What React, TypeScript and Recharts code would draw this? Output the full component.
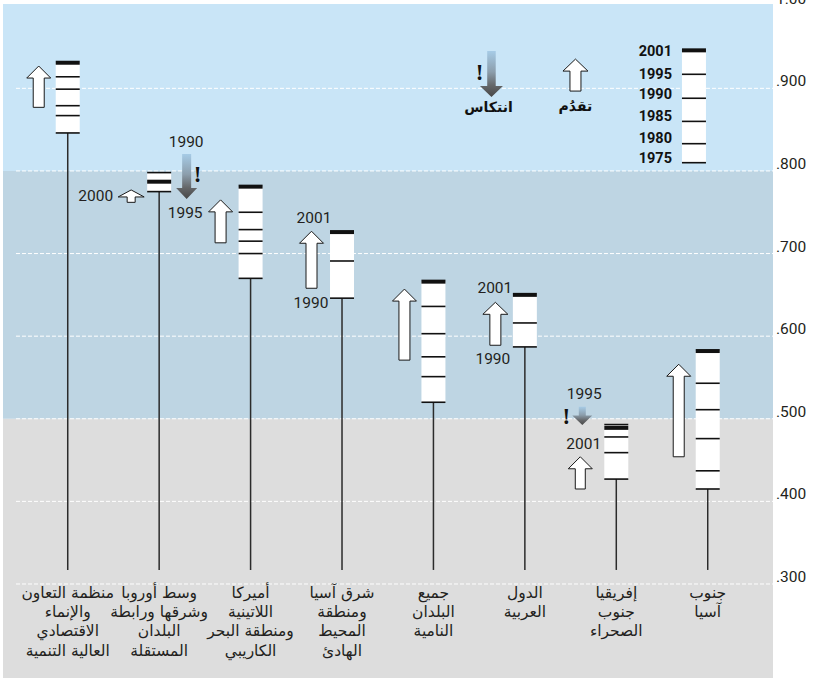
import React from 'react';
import {
  ComposedChart,
  XAxis,
  YAxis,
  Scatter,
  ReferenceArea,
  ReferenceLine,
  ReferenceDot,
} from 'recharts';

// ---------------- data ----------------
const YEARS = [1975, 1980, 1985, 1990, 1995, 2001];

const CATEGORY_LABELS: string[][] = [
  ['منظمة التعاون', 'والإنماء', 'الاقتصادي', 'العالية التنمية'],
  ['وسط أوروبا', 'وشرقها ورابطة', 'البلدان', 'المستقلة'],
  ['أميركا', 'اللاتينية', 'ومنطقة البحر', 'الكاريبي'],
  ['شرق آسيا', 'ومنطقة', 'المحيط', 'الهادئ'],
  ['جميع', 'البلدان', 'النامية'],
  ['الدول', 'العربية'],
  ['إفريقيا', 'جنوب', 'الصحراء'],
  ['جنوب', 'آسيا'],
];

const HDI_OECD = [0.846, 0.867, 0.879, 0.899, 0.914, 0.931];
const HDI_CEE_CIS = [null, null, null, 0.798, 0.775, 0.787];
const HDI_LATAM = [0.67, 0.7, 0.715, 0.729, 0.75, 0.781];
const HDI_EAST_ASIA = [null, null, null, 0.646, 0.691, 0.726];
const HDI_DEVELOPING = [0.52, 0.551, 0.575, 0.603, 0.636, 0.666];
const HDI_ARAB = [null, null, null, 0.587, 0.616, 0.65];
const HDI_SSA = [null, 0.427, 0.459, 0.478, 0.493, 0.489];
const HDI_SOUTH_ASIA = [0.415, 0.437, 0.476, 0.511, 0.543, 0.582];
const REGION_SERIES: (number | null)[][] = [
  HDI_OECD,
  HDI_CEE_CIS,
  HDI_LATAM,
  HDI_EAST_ASIA,
  HDI_DEVELOPING,
  HDI_ARAB,
  HDI_SSA,
  HDI_SOUTH_ASIA,
];

const Y_TICKS = [0.3, 0.4, 0.5, 0.6, 0.7, 0.8, 0.9, 1.0];
const Y_TICK_LABELS = ['.300', '.400', '.500', '.600', '.700', '.800', '.900', '1.00'];
const GRID_VALUES = [0.3, 0.4, 0.5, 0.6, 0.7, 0.8, 0.9];
const BAND_EDGES = [0.5, 0.8];
const STEM_END = 0.317;

const LEGEND_YEARS = ['2001', '1995', '1990', '1985', '1980', '1975'];
const LEGEND_VALUES = [0.946, 0.917, 0.888, 0.86, 0.833, 0.81];
const LEGEND_LABEL_VALUES = [0.9457, 0.9179, 0.8931, 0.8664, 0.8404, 0.8156];

const PROGRESS_ARROWS = [
  { region: 0, from: 0.877, to: 0.927 },
  { region: 1, from: 0.762, to: 0.777 },
  { region: 2, from: 0.713, to: 0.765 },
  { region: 3, from: 0.658, to: 0.727 },
  { region: 4, from: 0.571, to: 0.657 },
  { region: 5, from: 0.589, to: 0.641 },
  { region: 6, from: 0.415, to: 0.454 },
  { region: 7, from: 0.454, to: 0.566 },
];
const REVERSAL_ARROWS = [
  { region: 1, from: 0.8205, to: 0.766 },
  { region: 6, from: 0.5146, to: 0.4924 },
];
const YEAR_NOTES = [
  { region: 1, text: '1990', value: 0.836 },
  { region: 1, text: '1995', value: 0.7503 },
  { region: 1, text: '2000', value: 0.7708 },
  { region: 3, text: '2001', value: 0.7442 },
  { region: 3, text: '1990', value: 0.6413 },
  { region: 5, text: '2001', value: 0.6595 },
  { region: 5, text: '1990', value: 0.5735 },
  { region: 6, text: '1995', value: 0.5312 },
  { region: 6, text: '2001', value: 0.4695 },
];
const WARNING_MARKS = [
  { region: 1, value: 0.7962 },
  { region: 6, value: 0.5033 },
];
const LEGEND_PROGRESS = { from: 0.8967, to: 0.9354, label: 'تقدُم', labelValue: 0.8786 };
const LEGEND_REVERSAL = { from: 0.9451, to: 0.8894, label: 'انتكاس', labelValue: 0.8773, markValue: 0.9203 };

// ---------------- layout / style ----------------
const W = 814;
const H = 678;
const X_MIN = -0.708;
const X_MAX = 7.714;
const Y_MIN = 0.1862;
const Y_MAX = 1.0021;
const PX = 91.43; // pixels per category unit
const u = (px: number) => px / PX;
const BAR_HALF = u(12);
const GRID_START = u(16 - 67.75);
const LEGEND_BOX_X = u(694 - 67.75);
const LEGEND_UP_X = u(575.5 - 67.75);
const LEGEND_DOWN_X = u(491.5 - 67.75);

const PROGRESS_STYLE = [
  { dx: -29, w: 24, headH: 12, shaftW: 11 },
  { dx: -28, w: 26, headH: 7, shaftW: 8 },
  { dx: -30, w: 24, headH: 12, shaftW: 11 },
  { dx: -30.5, w: 24, headH: 12, shaftW: 11 },
  { dx: -29, w: 24, headH: 12, shaftW: 11 },
  { dx: -29.5, w: 25, headH: 12, shaftW: 11 },
  { dx: -36, w: 24, headH: 12, shaftW: 10 },
  { dx: -29, w: 24, headH: 12, shaftW: 11 },
];
const REVERSAL_STYLE = [
  { dx: 27.5, w: 21, headH: 11, shaftW: 9 },
  { dx: -34, w: 20, headH: 9.5, shaftW: 7 },
];
const NOTE_STYLE = [
  { dx: 27, anchor: 'middle' },
  { dx: 26, anchor: 'middle' },
  { dx: -46, anchor: 'end' },
  { dx: -28, anchor: 'middle' },
  { dx: -31, anchor: 'middle' },
  { dx: -30, anchor: 'middle' },
  { dx: -32, anchor: 'middle' },
  { dx: -32, anchor: 'middle' },
  { dx: -32.5, anchor: 'middle' },
];
const MARK_DX = [38.5, -50];

const NUM_FONT = "Roboto, 'Open Sans', sans-serif";
const AR_FONT = "'DejaVu Sans', sans-serif";
const TEXT_COLOR = '#231f20';
const BG_TOP = '#c9e5f7';
const BG_MID = '#bed5e3';
const BG_LOW = '#dddddd';

// ---------------- shapes ----------------
function upArrowPath(x: number, y: number, w: number, h: number, headH: number, shaftW: number) {
  const cx = x + w / 2;
  const s = shaftW / 2;
  return `M${cx},${y} L${x + w},${y + headH} L${cx + s},${y + headH} L${cx + s},${y + h} L${cx - s},${y + h} L${cx - s},${y + headH} L${x},${y + headH} Z`;
}
function downArrowPath(x: number, y: number, w: number, h: number, headH: number, shaftW: number) {
  const cx = x + w / 2;
  const s = shaftW / 2;
  const b = y + h;
  return `M${cx - s},${y} L${cx + s},${y} L${cx + s},${b - headH} L${x + w},${b - headH} L${cx},${b} L${x},${b - headH} L${cx - s},${b - headH} Z`;
}

const makeUpShape = (headH: number, shaftW: number) => (p: any) => (
  <path
    d={upArrowPath(p.x, p.y, p.width, p.height, headH, shaftW)}
    fill="#ffffff"
    stroke="#1a1a1a"
    strokeWidth={1}
  />
);

const makeDownShape = (headH: number, shaftW: number, id: string) => (p: any) => (
  <g>
    <defs>
      <linearGradient id={id} x1="0" y1="0" x2="0" y2="1">
        <stop offset="0%" stopColor="#a6cbe6" />
        <stop offset="45%" stopColor="#8c9eac" />
        <stop offset="75%" stopColor="#646668" />
        <stop offset="100%" stopColor="#474747" />
      </linearGradient>
    </defs>
    <path d={downArrowPath(p.x, p.y, p.width, p.height, headH, shaftW)} fill={`url(#${id})`} stroke="none" />
  </g>
);

const tickShape = (p: any) => (
  <line
    x1={p.cx - 12}
    x2={p.cx + 12}
    y1={p.cy}
    y2={p.cy}
    stroke="#111111"
    strokeWidth={p.payload && p.payload.thick ? 4 : 1.6}
  />
);

const CategoryTick = (props: any) => {
  const { x, y, payload } = props;
  const lines = CATEGORY_LABELS[payload.value] || [];
  return (
    <g>
      {lines.map((t, k) => (
        <text
          key={k}
          x={x}
          y={y - 80.5 + k * 19.4}
          textAnchor="middle"
          fontFamily={AR_FONT}
          fontSize={15.5}
          fill={TEXT_COLOR}
        >
          {t}
        </text>
      ))}
    </g>
  );
};

const ValueTick = (props: any) => {
  const { x, y, payload } = props;
  const idx = Y_TICKS.indexOf(payload.value);
  return (
    <text x={x} y={y - 2} textAnchor="start" fontFamily={NUM_FONT} fontSize={15.5} fill={TEXT_COLOR}>
      {idx >= 0 ? Y_TICK_LABELS[idx] : ''}
    </text>
  );
};

export default function App() {
  const tickPoints: { x: number; y: number; thick: boolean }[] = [];
  REGION_SERIES.forEach((vals, i) => {
    YEARS.forEach((yr, j) => {
      const v = vals[j];
      if (v != null) tickPoints.push({ x: i, y: v, thick: yr === 2001 });
    });
  });
  const legendPoints = LEGEND_VALUES.map((v, k) => ({ x: LEGEND_BOX_X, y: v, thick: k === 0 }));

  const ranges = REGION_SERIES.map((vals) => {
    const nums = vals.filter((v) => v != null) as number[];
    return { lo: Math.min(...nums), hi: Math.max(...nums) };
  });

  return (
    <div style={{ position: 'absolute', left: 0, top: 0, width: W, height: H }}>
      <ComposedChart width={W} height={H} margin={{ top: 4, right: 0, bottom: 0, left: 3 }}>
        <XAxis
          type="number"
          dataKey="x"
          domain={[X_MIN, X_MAX]}
          allowDataOverflow
          ticks={[0, 1, 2, 3, 4, 5, 6, 7]}
          interval={0}
          orientation="bottom"
          mirror
          axisLine={false}
          tickLine={false}
          tickSize={0}
          tickMargin={0}
          tick={<CategoryTick />}
        />
        <YAxis
          type="number"
          dataKey="y"
          orientation="right"
          domain={[Y_MIN, Y_MAX]}
          allowDataOverflow
          ticks={Y_TICKS}
          interval={0}
          width={41}
          axisLine={false}
          tickLine={false}
          tickSize={0}
          tickMargin={3}
          tick={<ValueTick />}
        />

        {/* background bands */}
        <ReferenceArea y1={Y_MIN} y2={BAND_EDGES[0]} fill={BG_LOW} fillOpacity={1} stroke="none" ifOverflow="visible" zIndex={-300} />
        <ReferenceArea y1={BAND_EDGES[0]} y2={BAND_EDGES[1]} fill={BG_MID} fillOpacity={1} stroke="none" ifOverflow="visible" zIndex={-300} />
        <ReferenceArea y1={BAND_EDGES[1]} y2={Y_MAX} fill={BG_TOP} fillOpacity={1} stroke="none" ifOverflow="visible" zIndex={-300} />

        {/* dashed grid */}
        {GRID_VALUES.map((g) => (
          <ReferenceLine
            key={`g${g}`}
            segment={[{ x: GRID_START, y: g }, { x: X_MAX, y: g }]}
            stroke="#ffffff"
            strokeWidth={1}
            strokeDasharray="4 2"
            ifOverflow="visible"
            zIndex={-200}
          />
        ))}

        {/* white boxes */}
        {ranges.map((r, i) => (
          <ReferenceArea
            key={`box${i}`}
            x1={i - BAR_HALF}
            x2={i + BAR_HALF}
            y1={r.lo}
            y2={r.hi}
            fill="#ffffff"
            fillOpacity={1}
            stroke="none"
            ifOverflow="visible"
          />
        ))}
        <ReferenceArea
          x1={LEGEND_BOX_X - BAR_HALF}
          x2={LEGEND_BOX_X + BAR_HALF}
          y1={LEGEND_VALUES[LEGEND_VALUES.length - 1]}
          y2={LEGEND_VALUES[0]}
          fill="#ffffff"
          fillOpacity={1}
          stroke="none"
          ifOverflow="visible"
        />

        {/* progress arrows */}
        {PROGRESS_ARROWS.map((a, k) => {
          const st = PROGRESS_STYLE[k];
          const cx = a.region + u(st.dx);
          return (
            <ReferenceArea
              key={`up${k}`}
              x1={cx - u(st.w / 2)}
              x2={cx + u(st.w / 2)}
              y1={a.from}
              y2={a.to}
              ifOverflow="visible"
              shape={makeUpShape(st.headH, st.shaftW)}
            />
          );
        })}
        <ReferenceArea
          x1={LEGEND_UP_X - u(12.5)}
          x2={LEGEND_UP_X + u(12.5)}
          y1={LEGEND_PROGRESS.from}
          y2={LEGEND_PROGRESS.to}
          ifOverflow="visible"
          shape={makeUpShape(12, 11)}
        />

        {/* reversal arrows */}
        {REVERSAL_ARROWS.map((a, k) => {
          const st = REVERSAL_STYLE[k];
          const cx = a.region + u(st.dx);
          return (
            <ReferenceArea
              key={`down${k}`}
              x1={cx - u(st.w / 2)}
              x2={cx + u(st.w / 2)}
              y1={a.to}
              y2={a.from}
              ifOverflow="visible"
              shape={makeDownShape(st.headH, st.shaftW, `revGrad${k}`)}
            />
          );
        })}
        <ReferenceArea
          x1={LEGEND_DOWN_X - u(11.5)}
          x2={LEGEND_DOWN_X + u(11.5)}
          y1={LEGEND_REVERSAL.to}
          y2={LEGEND_REVERSAL.from}
          ifOverflow="visible"
          shape={makeDownShape(11, 8.5, 'revGradLegend')}
        />

        {/* stems */}
        {ranges.map((r, i) => (
          <ReferenceLine
            key={`stem${i}`}
            segment={[{ x: i, y: r.lo }, { x: i, y: STEM_END }]}
            stroke="#2b2b2b"
            strokeWidth={1.5}
            ifOverflow="visible"
          />
        ))}

        {/* year tick marks */}
        <Scatter data={tickPoints} dataKey="y" shape={tickShape} isAnimationActive={false} />
        <Scatter data={legendPoints} dataKey="y" shape={tickShape} isAnimationActive={false} />

        {/* year notes */}
        {YEAR_NOTES.map((n, k) => {
          const st = NOTE_STYLE[k];
          return (
            <ReferenceDot
              key={`note${k}`}
              x={n.region}
              y={n.value}
              r={0}
              ifOverflow="visible"
              shape={(p: any) => (
                <text
                  x={p.cx + st.dx}
                  y={p.cy + 5.5}
                  textAnchor={st.anchor as any}
                  fontFamily={NUM_FONT}
                  fontSize={15.5}
                  fill={TEXT_COLOR}
                >
                  {n.text}
                </text>
              )}
            />
          );
        })}

        {/* warning marks */}
        {WARNING_MARKS.map((m, k) => (
          <ReferenceDot
            key={`mark${k}`}
            x={m.region}
            y={m.value}
            r={0}
            ifOverflow="visible"
            shape={(p: any) => (
              <text
                x={p.cx + MARK_DX[k]}
                y={p.cy + 8}
                textAnchor="middle"
                fontFamily="'Liberation Serif', serif"
                fontWeight="bold"
                fontSize={23}
                fill="#111"
              >
                !
              </text>
            )}
          />
        ))}
        <ReferenceDot
          x={LEGEND_DOWN_X}
          y={LEGEND_REVERSAL.markValue}
          r={0}
          ifOverflow="visible"
          shape={(p: any) => (
            <text
              x={p.cx - 12}
              y={p.cy + 8}
              textAnchor="middle"
              fontFamily="'Liberation Serif', serif"
              fontWeight="bold"
              fontSize={23}
              fill="#111"
            >
              !
            </text>
          )}
        />

        {/* legend labels */}
        {LEGEND_YEARS.map((yr, k) => (
          <ReferenceDot
            key={`ly${k}`}
            x={LEGEND_BOX_X}
            y={LEGEND_LABEL_VALUES[k]}
            r={0}
            ifOverflow="visible"
            shape={(p: any) => (
              <text
                x={p.cx - 22}
                y={p.cy + 5}
                textAnchor="end"
                fontFamily={NUM_FONT}
                fontWeight="bold"
                fontSize={14.5}
                fill="#111"
              >
                {yr}
              </text>
            )}
          />
        ))}
        <ReferenceDot
          x={LEGEND_UP_X}
          y={LEGEND_PROGRESS.labelValue}
          r={0}
          ifOverflow="visible"
          shape={(p: any) => (
            <text x={p.cx} y={p.cy + 5} textAnchor="middle" fontFamily={AR_FONT} fontWeight="bold" fontSize={14} fill="#111">
              {LEGEND_PROGRESS.label}
            </text>
          )}
        />
        <ReferenceDot
          x={LEGEND_DOWN_X}
          y={LEGEND_REVERSAL.labelValue}
          r={0}
          ifOverflow="visible"
          shape={(p: any) => (
            <text x={p.cx - 3} y={p.cy + 5} textAnchor="middle" fontFamily={AR_FONT} fontWeight="bold" fontSize={14} fill="#111">
              {LEGEND_REVERSAL.label}
            </text>
          )}
        />
      </ComposedChart>
    </div>
  );
}
